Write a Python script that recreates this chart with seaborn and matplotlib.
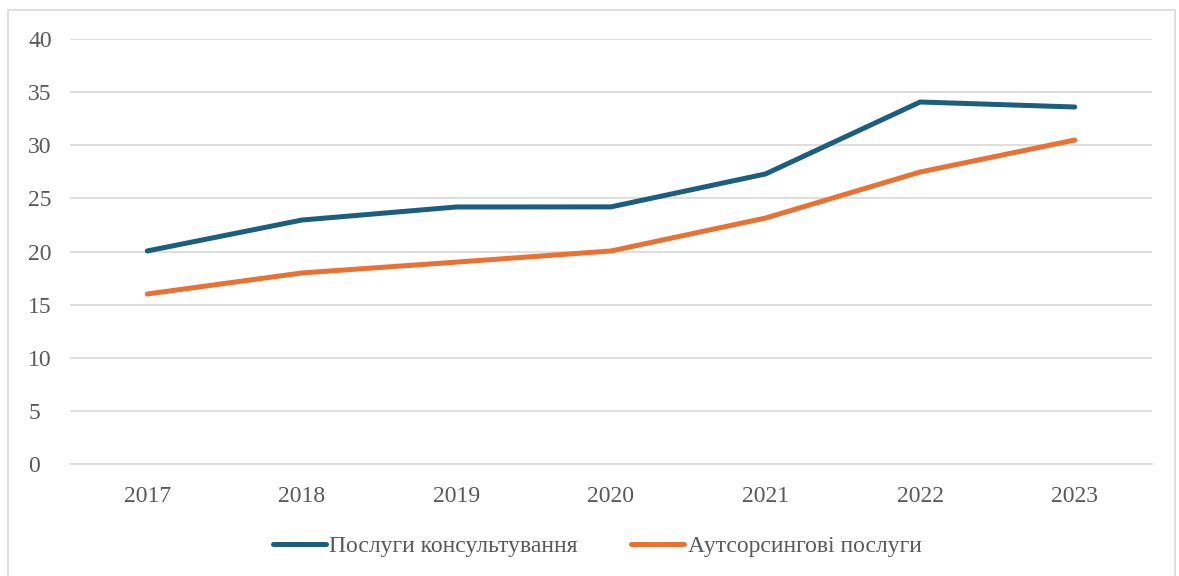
import pandas as pd
import seaborn as sns
import matplotlib.pyplot as plt
from matplotlib.patches import Rectangle

# Data
years = ["2017", "2018", "2019", "2020", "2021", "2022", "2023"]
consulting = [20.05, 22.96, 24.19, 24.2, 27.3, 34.07, 33.6]
outsourcing = [16.0, 17.98, 19.0, 20.05, 23.15, 27.48, 30.49]
series_names = ["Послуги консультування", "Аутсорсингові послуги"]
y_ticks = [0, 5, 10, 15, 20, 25, 30, 35, 40]

df = pd.DataFrame({
    "Рік": years * 2,
    "Значення": consulting + outsourcing,
    "Серія": [series_names[0]] * len(years) + [series_names[1]] * len(years),
})

sns.set_style("white")
plt.rcParams["font.family"] = ["Liberation Serif", "DejaVu Serif"]

fig = plt.figure(figsize=(11.79, 5.76), dpi=100)
ax = fig.add_axes([70 / 1179, 1 - 464 / 576, (1152 - 70) / 1179, (464 - 39) / 576])

# light border around the whole chart area
fig.patches.append(Rectangle((8 / 1179, -0.05), 1167 / 1179, 1.05 - 10 / 576,
                             transform=fig.transFigure, fill=False,
                             edgecolor="#D9D9D9", linewidth=1.2))

sns.lineplot(data=df, x="Рік", y="Значення", hue="Серія", ax=ax,
             palette=["#1B5E7E", "#E97132"], linewidth=3.6,
             solid_joinstyle="round", solid_capstyle="round", legend=False)

ax.set_xlim(-0.5, len(years) - 0.5)
ax.set_ylim(0, 40)
ax.set_yticks(y_ticks)
ax.set_yticklabels([str(t) for t in y_ticks])
ax.yaxis.grid(True, color="#D9D9D9", linewidth=1.2)
ax.xaxis.grid(False)
ax.set_axisbelow(True)
for s in ax.spines.values():
    s.set_visible(False)
ax.spines["bottom"].set_visible(True)
ax.spines["bottom"].set_color("#D9D9D9")
ax.spines["bottom"].set_linewidth(1.2)
ax.tick_params(axis="both", length=0, labelsize=17, labelcolor="#595959")
ax.tick_params(axis="x", pad=16)
ax.tick_params(axis="y", pad=30)
for lbl in ax.get_yticklabels():
    lbl.set_horizontalalignment("left")
ax.set_xlabel("")
ax.set_ylabel("")

handles = ax.get_lines()[:2]
fig.legend(handles, series_names, loc="center", bbox_to_anchor=(597 / 1179, 1 - 546 / 576),
           ncol=2, frameon=False, fontsize=17, labelcolor="#595959",
           handlelength=2.25, handletextpad=0.15, columnspacing=2.25)

fig.savefig("out.png", dpi=100, facecolor="white")
